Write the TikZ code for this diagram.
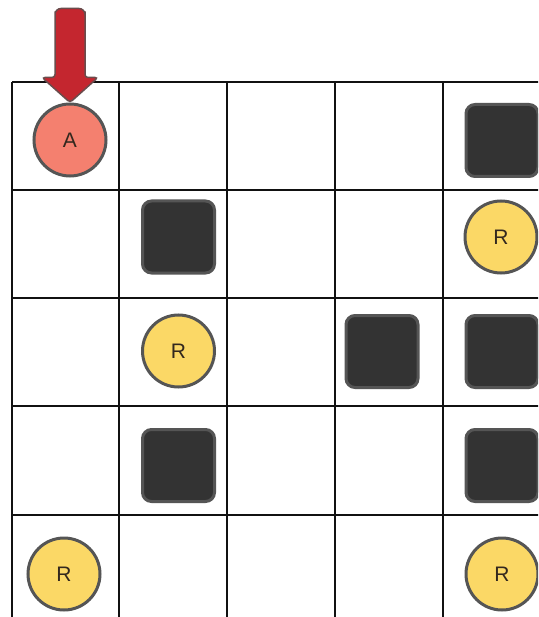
\documentclass[tikz,border=0pt]{standalone}
\usepackage{fontspec}
\setmainfont{Liberation Sans}
\usetikzlibrary{calc}
\definecolor{gridline}{HTML}{111111}
\definecolor{agentfill}{HTML}{F4806F}
\definecolor{rewardfill}{HTML}{FBD866}
\definecolor{wallfill}{HTML}{333333}
\definecolor{rimgray}{HTML}{555555}
\definecolor{arrowred}{HTML}{C4262F}
\definecolor{arrowrim}{HTML}{6A4C4C}
\definecolor{letter}{HTML}{33281E}
\tikzset{
  agent/.style={circle, draw=rimgray, line width=3pt, fill=agentfill, minimum size=72pt, inner sep=0pt, text=letter, font=\fontsize{21}{21}\selectfont},
  reward/.style={circle, draw=rimgray, line width=3pt, fill=rewardfill, minimum size=72pt, inner sep=0pt, text=letter, font=\fontsize{21}{21}\selectfont},
  wall/.style={rectangle, rounded corners=9pt, draw=rimgray, line width=3pt, fill=wallfill, minimum size=72pt, inner sep=0pt},
  gridl/.style={draw=gridline, line width=1.6pt},
}
\begin{document}
\begin{tikzpicture}[x=1pt, y=-1pt]
\useasboundingbox (0,0) rectangle (538,617);
\fill[white] (0,0) rectangle (538,617);
\begin{scope}
\clip (0,0) rectangle (538,617);
% grid
\foreach \gx in {12,119,227,335,443} {
  \draw[gridl] (\gx,82) -- (\gx,630);
}
\foreach \gy in {82,190,298,406,515} {
  \draw[gridl] (12,\gy) -- (545,\gy);
}
% walls
\node[wall] (w1) at (502,140.5) {};
\node[wall] (w2) at (178.5,237) {};
\node[wall] (w3) at (382,351.5) {};
\node[wall] (w4) at (502,351.5) {};
\node[wall] (w5) at (178.5,465.5) {};
\node[wall] (w6) at (502,465.5) {};
% rewards
\node[reward] (r1) at (501,237) {R};
\node[reward] (r2) at (178.5,351) {R};
\node[reward] (r3) at (64,574) {R};
\node[reward] (r4) at (502,574) {R};
% agent
\node[agent] (a) at (70,140) {A};
% start arrow
\coordinate (tip) at (a.north);
\filldraw[fill=arrowred, draw=arrowrim, line width=1.5pt, rounded corners=3pt]
  ($(tip)+(-15,-25)$) -- ($(tip)+(-15,-88)$) [rounded corners=6pt] -- ($(tip)+(-15,-94)$) -- ($(tip)+(15,-94)$) [rounded corners=3pt] -- ($(tip)+(15,-88)$) -- ($(tip)+(15,-25)$)
  -- ($(tip)+(28,-25)$) -- (tip) -- ($(tip)+(-28,-25)$) -- cycle;
\end{scope}
\end{tikzpicture}
\end{document}
